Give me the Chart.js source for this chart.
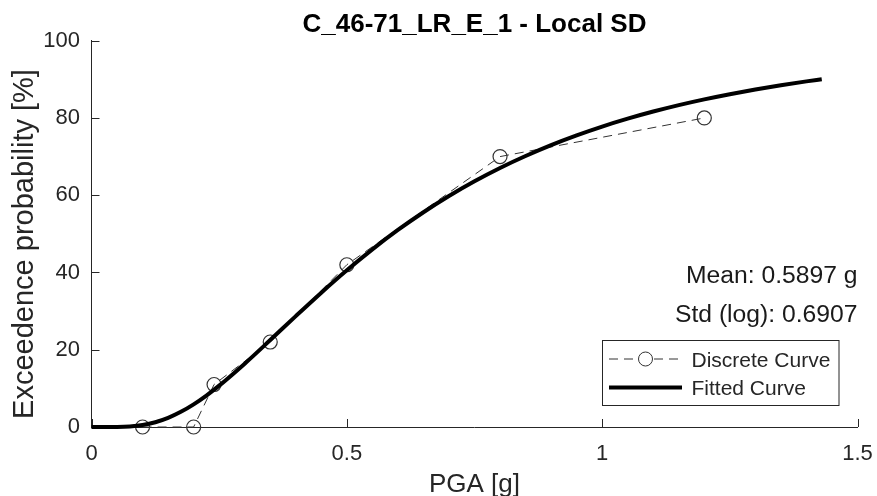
<!DOCTYPE html>
<html>
<head>
<meta charset="utf-8">
<script src="https://cdn.jsdelivr.net/npm/chart.js@4/dist/chart.umd.min.js"></script>
<style>
  html, body { margin: 0; padding: 0; background: #ffffff; }
  #wrap { width: 877px; height: 496px; }
</style>
</head>
<body>
<div id="wrap"><canvas id="c" width="877" height="496"></canvas></div>
<script>
// Labels
const titleText = 'C_46-71_LR_E_1 - Local SD';
const xLabel = 'PGA [g]';
const yLabel = 'Exceedence probability [%]';
const meanText = 'Mean: 0.5897 g';
const stdText = 'Std (log): 0.6907';
const legendLabels = ['Discrete Curve', 'Fitted Curve'];

// Discrete exceedance points
const discretePGA = [0.1, 0.2, 0.24, 0.35, 0.5, 0.8, 1.2];
const discreteProb = [0, 0, 11, 22, 42, 70, 80];

// Fitted lognormal curve, sampled
const fittedPGA = [0, 0.05, 0.075, 0.1, 0.125, 0.15, 0.175, 0.2, 0.225, 0.25, 0.3, 0.35, 0.4, 0.45, 0.5,
  0.55, 0.6, 0.65, 0.7, 0.75, 0.8, 0.85, 0.9, 0.95, 1.0, 1.05, 1.1, 1.15, 1.2, 1.25, 1.3, 1.35, 1.4, 1.43];
const fittedProb = [0, 0.02, 0.14, 0.51, 1.24, 2.37, 3.93, 5.87, 8.15, 10.70, 16.39, 22.50, 28.70, 34.77, 40.56,
  45.98, 51.00, 55.60, 59.80, 63.61, 67.06, 70.16, 72.98, 75.50, 77.78, 79.82, 81.66, 83.33, 84.82, 86.16, 87.38, 88.48, 89.47, 90.02];

// Axis ticks
const xTicks = [0, 0.5, 1, 1.5];
const yTicks = [0, 20, 40, 60, 80, 100];

const FONT = '"Liberation Sans", Arial, Helvetica, sans-serif';
const AXIS_COLOR = '#262626';

const toXY = (xs, ys) => xs.map((x, i) => ({ x: x, y: ys[i] }));

const decorations = {
  id: 'decorations',
  beforeDatasetsDraw(chart) {
    const { ctx, chartArea: a, scales } = chart;
    ctx.save();
    ctx.strokeStyle = AXIS_COLOR;
    ctx.lineWidth = 1;
    ctx.beginPath();
    xTicks.forEach(v => {
      const px = Math.round(scales.x.getPixelForValue(v)) + 0.5;
      ctx.moveTo(px, a.bottom);
      ctx.lineTo(px, a.bottom - 8);
    });
    yTicks.forEach(v => {
      const py = Math.round(scales.y.getPixelForValue(v)) + 0.5;
      ctx.moveTo(a.left, py);
      ctx.lineTo(a.left + 8, py);
    });
    ctx.stroke();
    ctx.restore();
  },
  afterDraw(chart) {
    const { ctx, chartArea: a } = chart;
    ctx.save();

    // Title
    ctx.fillStyle = '#000000';
    ctx.font = 'bold 26px ' + FONT;
    ctx.textAlign = 'center';
    ctx.textBaseline = 'alphabetic';
    ctx.fillText(titleText, (a.left + a.right) / 2, 31.5);

    // Axis labels
    ctx.fillStyle = AXIS_COLOR;
    ctx.font = '26px ' + FONT;
    ctx.fillText(xLabel, (a.left + a.right) / 2, 491.5);

    ctx.save();
    ctx.translate(33, 244);
    ctx.rotate(-Math.PI / 2);
    ctx.font = '29px ' + FONT;
    ctx.textAlign = 'center';
    ctx.fillText(yLabel, 0, 0);
    ctx.restore();

    // Fit parameters
    ctx.font = '24.7px ' + FONT;
    ctx.textAlign = 'right';
    ctx.fillStyle = '#1a1a1a';
    ctx.fillText(meanText, 857.5, 282.5);
    ctx.fillText(stdText, 857.5, 321.5);

    // Legend box
    const bx = 602.5, by = 340.5, bw = 236.5, bh = 65;
    ctx.fillStyle = '#ffffff';
    ctx.fillRect(bx, by, bw, bh);
    ctx.strokeStyle = AXIS_COLOR;
    ctx.lineWidth = 1;
    ctx.strokeRect(bx, by, bw, bh);

    // Discrete sample
    const lx0 = 609, lx1 = 682, ly1 = 359, ly2 = 387.5;
    ctx.strokeStyle = '#333333';
    ctx.lineWidth = 1;
    ctx.setLineDash([9, 6]);
    ctx.beginPath();
    ctx.moveTo(lx0, ly1);
    ctx.lineTo(lx1, ly1);
    ctx.stroke();
    ctx.setLineDash([]);
    ctx.beginPath();
    ctx.fillStyle = '#ffffff';
    ctx.arc((lx0 + lx1) / 2, ly1, 7, 0, Math.PI * 2);
    ctx.fill();
    ctx.stroke();

    // Fitted sample
    ctx.strokeStyle = '#000000';
    ctx.lineWidth = 4;
    ctx.beginPath();
    ctx.moveTo(lx0, ly2);
    ctx.lineTo(lx1, ly2);
    ctx.stroke();

    ctx.fillStyle = AXIS_COLOR;
    ctx.font = '21px ' + FONT;
    ctx.textAlign = 'left';
    ctx.fillText(legendLabels[0], 691.5, 366.5);
    ctx.fillText(legendLabels[1], 691.5, 395);

    ctx.restore();
  }
};

new Chart(document.getElementById('c'), {
  type: 'line',
  data: {
    datasets: [
      {
        label: legendLabels[1],
        data: toXY(fittedPGA, fittedProb),
        borderColor: '#000000',
        borderWidth: 4,
        pointRadius: 0,
        cubicInterpolationMode: 'monotone',
        clip: false,
        order: 0
      },
      {
        label: legendLabels[0],
        data: toXY(discretePGA, discreteProb),
        borderColor: '#333333',
        borderWidth: 1,
        borderDash: [9, 6],
        tension: 0,
        pointRadius: 7,
        pointBorderWidth: 1.2,
        pointBorderColor: '#333333',
        pointBackgroundColor: 'rgba(0,0,0,0)',
        clip: false,
        order: 1
      }
    ]
  },
  options: {
    responsive: false,
    devicePixelRatio: 1,
    animation: false,
    layout: { padding: { top: 40.7, right: 19.5, left: 0, bottom: 0 } },
    plugins: { legend: { display: false }, tooltip: { enabled: false }, title: { display: false } },
    scales: {
      x: {
        type: 'linear',
        min: 0,
        max: 1.5,
        grid: { display: false, drawTicks: false },
        border: { display: true, color: AXIS_COLOR, width: 1 },
        ticks: {
          stepSize: 0.5,
          color: AXIS_COLOR,
          padding: 14,
          font: { family: FONT, size: 22 },
          callback: (value) => String(value)
        },
        afterFit(scale) {
          scale.height = 69;
          scale.paddingLeft = 0;
          scale.paddingRight = 0;
        }
      },
      y: {
        min: 0,
        max: 100,
        grid: { display: false, drawTicks: false },
        border: { display: true, color: AXIS_COLOR, width: 1 },
        ticks: { stepSize: 20, color: AXIS_COLOR, padding: 11.5, font: { family: FONT, size: 22 } },
        afterFit(scale) {
          scale.width = 91.5;
          scale.paddingTop = 0;
          scale.paddingBottom = 0;
        }
      }
    }
  },
  plugins: [decorations]
});
</script>
</body>
</html>
